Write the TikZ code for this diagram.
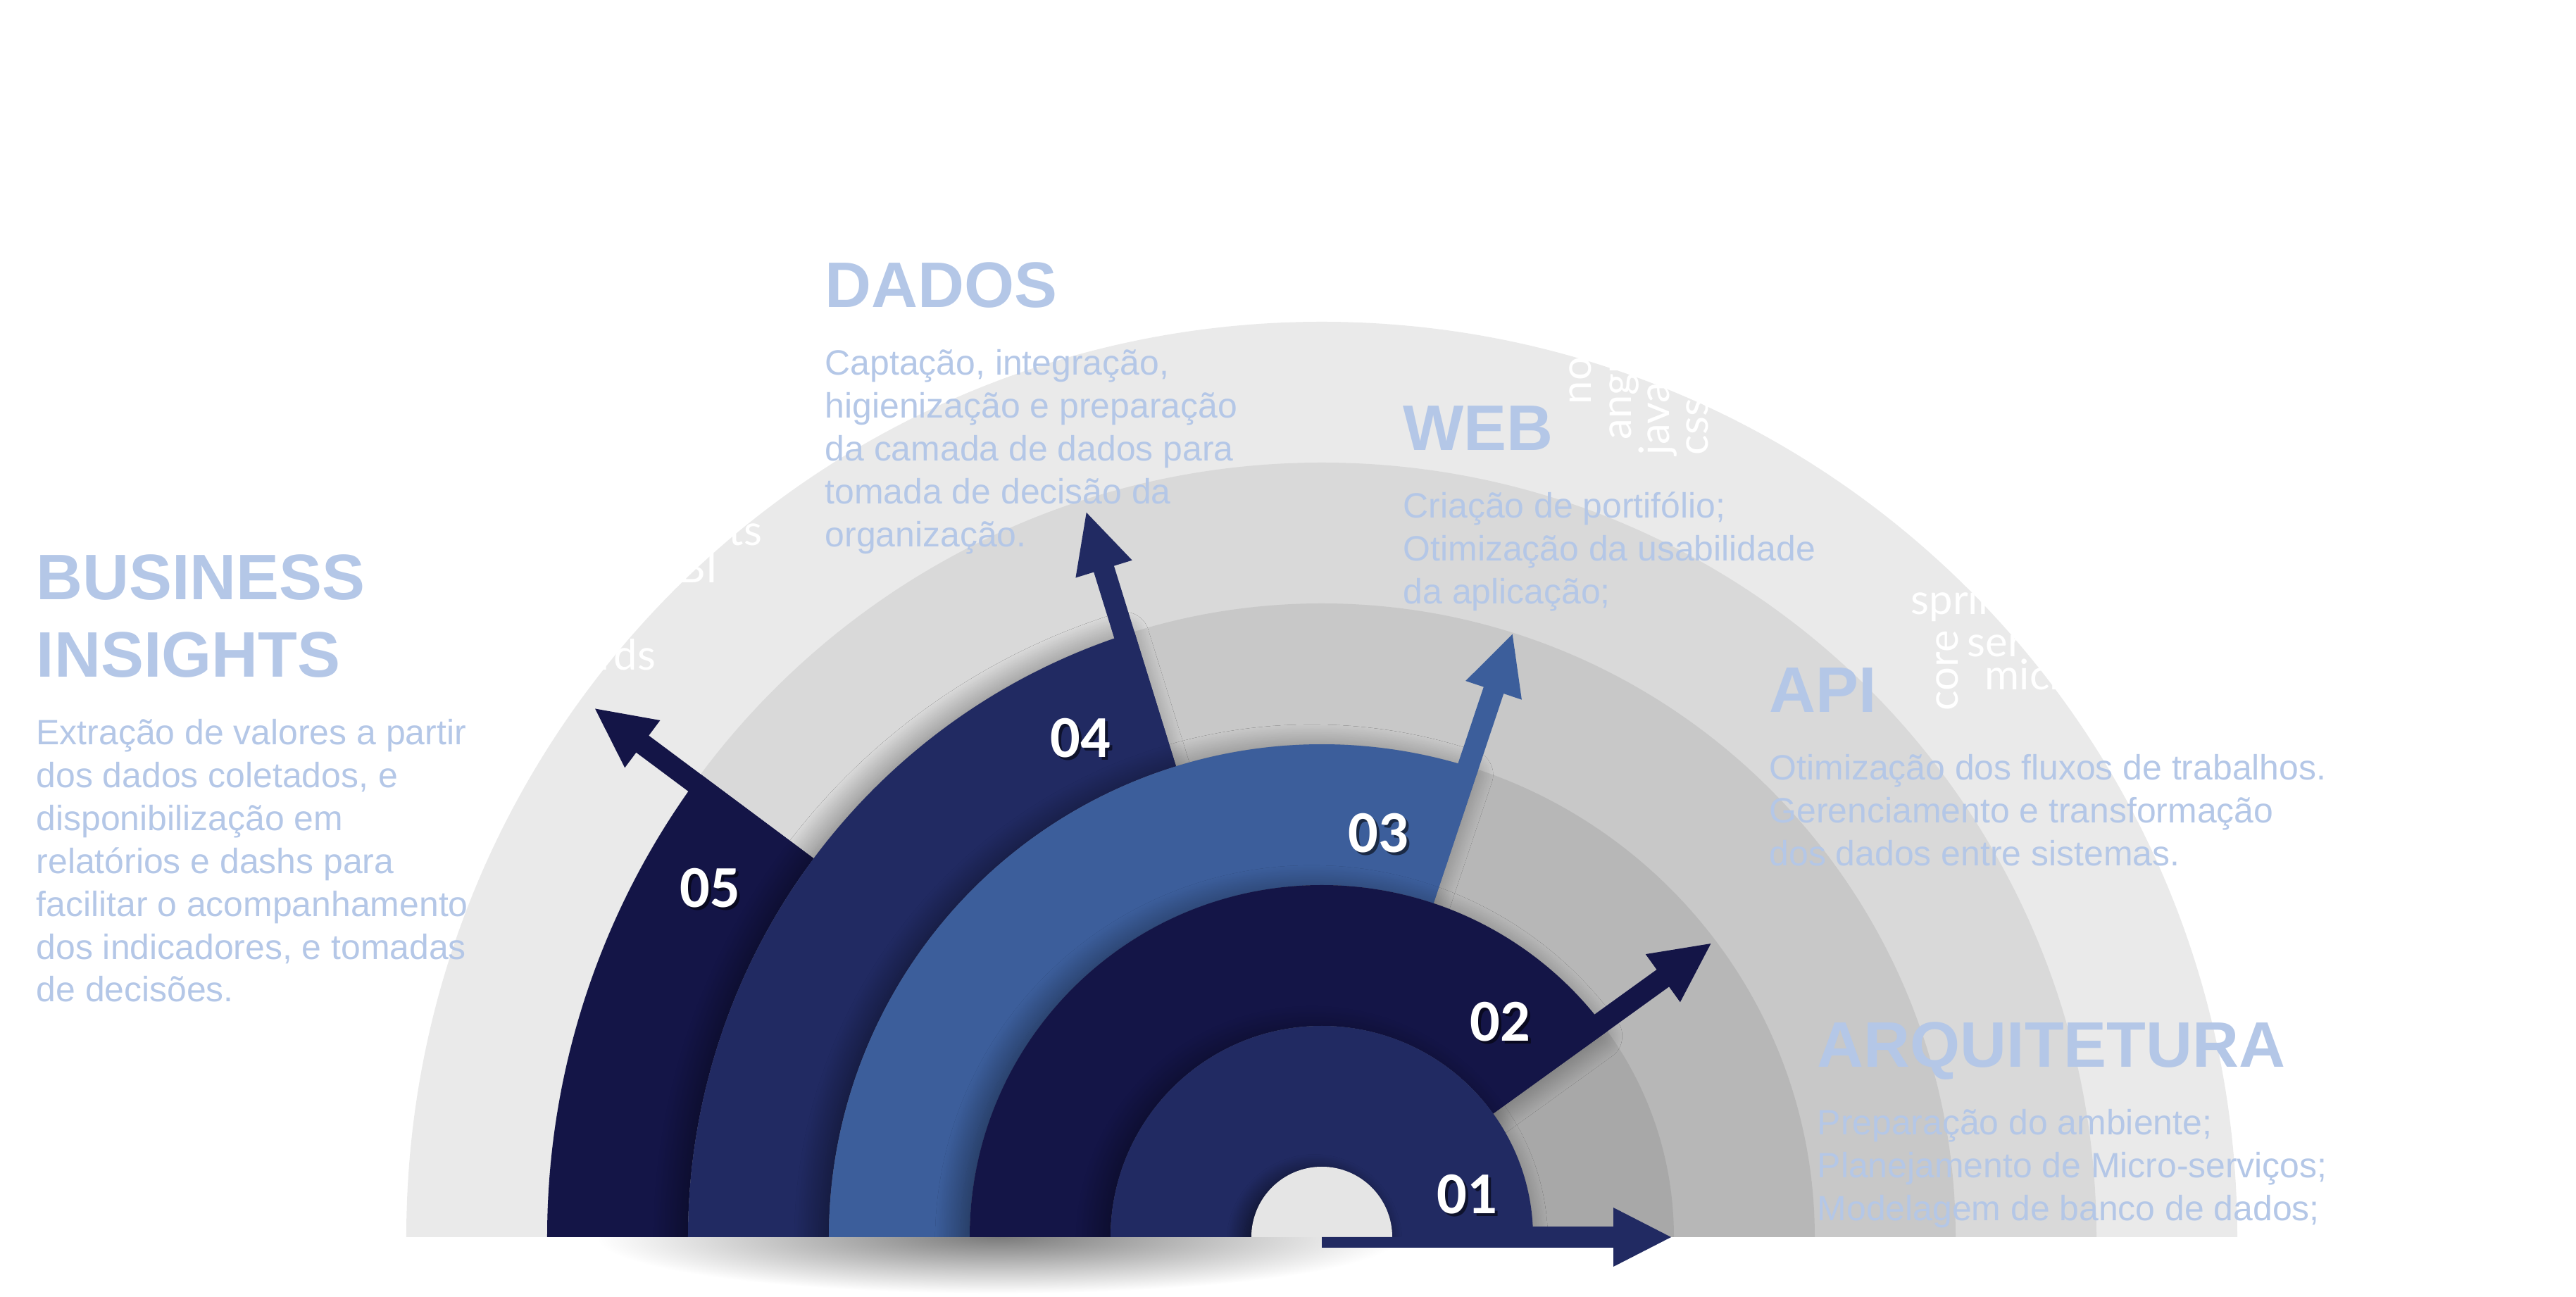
\documentclass[tikz,border=0pt]{standalone}
\usepackage{fontspec}
\setmainfont{Liberation Sans}
\newfontfamily\numfont{Carlito}
\newfontfamily\cloudfont{Lato}
\usetikzlibrary{shadows.blur}

\definecolor{ringA}{HTML}{EAEAEA}
\definecolor{ringB}{HTML}{D9D9D9}
\definecolor{ringC}{HTML}{C8C8C8}
\definecolor{ringD}{HTML}{B7B7B7}
\definecolor{ringE}{HTML}{A8A8A8}
\definecolor{hole}{HTML}{E5E5E5}
\definecolor{navyD}{HTML}{141547}
\definecolor{navyM}{HTML}{212A62}
\definecolor{blueM}{HTML}{3C5E9B}
\definecolor{txtblue}{HTML}{B4C7E7}

\begin{document}
\begin{tikzpicture}[
    title/.style={anchor=base west,inner sep=0pt,text=txtblue,font=\fontsize{26}{31.3}\selectfont\bfseries},
    body/.style={anchor=base west,inner sep=0pt,text=txtblue,font=\fontsize{14.2}{17.3}\selectfont},
    num/.style={inner sep=0pt,text=white,font=\numfont\bfseries\fontsize{24}{28}\selectfont},
    cloud/.style={anchor=base west,inner sep=0pt,text=white,font=\cloudfont\fontsize{17}{20}\selectfont},
    soft/.style={blur shadow={shadow xshift=-4pt,shadow yshift=-2pt,shadow blur radius=10pt,
      shadow blur steps=40,shadow opacity=45}}
  ]
  \useasboundingbox (-18.77,-0.85) rectangle (17.81,17.57);

  % background rings
  \foreach \r/\c in {13/ringA,11/ringB,9/ringC,7/ringD,5/ringE}
    \fill[\c] (-\r,0) arc (180:0:\r) -- cycle;

  % word cloud
  \node[cloud] (wReports) at (-9.99,9.82) {Reports};
  \node[cloud] (wBI) at (-9.88,9.29) {msBI};
  \node[cloud] (wDash) at (-12.57,8.05) {Dashboards};
  \node[cloud,rotate=90] (wNode) at (3.82,11.82) {node};
  \node[cloud,rotate=90] (wAng) at (4.39,11.32) {angular};
  \node[cloud,rotate=90] (wJs) at (4.93,11.10) {javascript};
  \node[cloud,rotate=90] (wCss) at (5.48,11.10) {css};
  \node[cloud] (wSpring) at (8.36,8.84) {springboot};
  \node[cloud] (wServ) at (9.16,8.24) {serviços};
  \node[cloud] (wMicro) at (9.41,7.77) {micro};
  \node[cloud,rotate=90] (wCore) at (9.03,7.47) {core};

  % soft shadow under the base
  \begin{scope}
    \clip (-14,-0.85) rectangle (14,0);
    \shade[inner color=black!52,outer color=white] (-4.6,0) ellipse (5.7 and 0.8);
  \end{scope}

  \begin{scope}
    \clip (-13.5,0) rectangle (13.5,13.5);
    % band 05
    \fill[navyD] (-11,0) arc (180:143.3:11) -- (143.3:9) arc (143.3:180:9) -- cycle;
    \fill[navyD,rotate=143.3] (9,0) -- (11.92,0) -- (11.92,-0.27) -- (12.76,0.15)
      -- (11.92,0.57) -- (11.92,0.3) -- (9,0.3) -- cycle;
    % bands 04 to 02 with their arrows
    \foreach \col/\ri/\a/\tip in {navyM/7/107.2/10.82, blueM/5/71.5/8.98, navyD/3/35.8/6.92} {
      \pgfmathsetmacro\ro{\ri+2}
      \pgfmathsetmacro\hb{\tip-0.84}
      \fill[\col,soft] (180:\ro) arc (180:\a:\ro) -- (\a:\ri) arc (\a:180:\ri) -- cycle;
      \fill[\col,rotate=\a] (\ri,0) -- (\hb,0) -- (\hb,-0.27) -- (\tip,0.15)
        -- (\hb,0.57) -- (\hb,0.3) -- (\ri,0.3) -- cycle;
    }
    % band 01
    \fill[navyM,soft] (-3,0) arc (180:0:3) -- (1,0) arc (0:180:1) -- cycle;
    \fill[hole,blur shadow={shadow xshift=-3pt,shadow yshift=-2pt,shadow blur radius=7pt,
      shadow blur steps=30,shadow opacity=60}] (-1,0) arc (180:0:1) -- cycle;
  \end{scope}
  \fill[navyM] (0,-0.15) -- (4.14,-0.15) -- (4.14,-0.42) -- (4.96,0)
    -- (4.14,0.42) -- (4.14,0.15) -- (2.9,0.15) -- (2.9,0) -- (0,0) -- cycle;

  % numbers
  \foreach \lab/\pos in {05/{150.3:10}, 04/{115.8:7.87}, 03/{82:5.79}, 02/{50.4:3.97}, 01/{16.5:2.15}} {
    \node[num,text=black,opacity=0.55] (s\lab) at ([shift={(0.04,-0.04)}]\pos) {\lab};
    \node[num] (n\lab) at (\pos) {\lab};
  }

  % texts
  \node[title] (tBus) at (-18.26,9.05) {\parbox[t]{10cm}{BUSINESS\\INSIGHTS}};
  \node[body] (bBus) at (-18.26,6.99) {\parbox[t]{10cm}{Extração de valores a partir\\dos dados coletados, e\\disponibilização em\\relatórios e dashs para\\facilitar o acompanhamento\\dos indicadores, e tomadas\\de decisões.}};

  \node[title] (tDados) at (-7.06,13.20) {DADOS};
  \node[body] (bDados) at (-7.06,12.24) {\parbox[t]{10cm}{Captação, integração,\\higienização e preparação\\da camada de dados para\\tomada de decisão da\\organização.}};

  \node[title] (tWeb) at (1.15,11.17) {WEB};
  \node[body] (bWeb) at (1.15,10.21) {\parbox[t]{10cm}{Criação de portifólio;\\Otimização da usabilidade\\da aplicação;}};

  \node[title] (tApi) at (6.35,7.45) {API};
  \node[body] (bApi) at (6.35,6.49) {\parbox[t]{10cm}{Otimização dos fluxos de trabalhos.\\Gerenciamento e transformação\\dos dados entre sistemas.}};

  \node[title] (tArq) at (7.03,2.41) {ARQUITETURA};
  \node[body] (bArq) at (7.03,1.45) {\parbox[t]{10cm}{Preparação do ambiente;\\Planejamento de Micro-serviços;\\Modelagem de banco de dados;}};
\end{tikzpicture}
\end{document}
